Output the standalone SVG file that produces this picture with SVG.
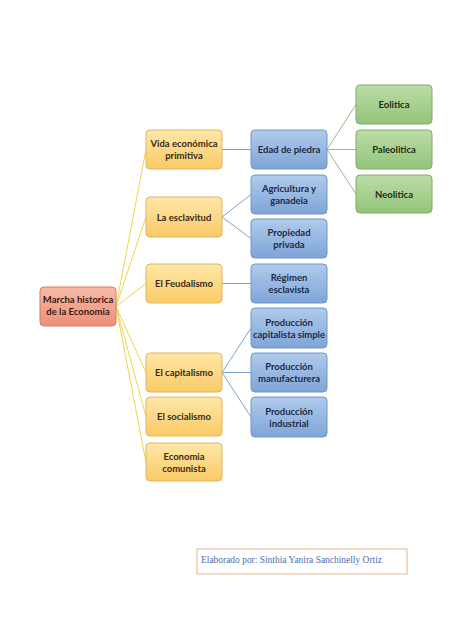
<svg xmlns="http://www.w3.org/2000/svg" width="474" height="632" viewBox="0 0 474 632">
<defs>
<linearGradient id="gy" x1="0" y1="0" x2="0" y2="1"><stop offset="0" stop-color="#fee7a8"/><stop offset="1" stop-color="#fbca66"/></linearGradient>
<linearGradient id="gb" x1="0" y1="0" x2="0" y2="1"><stop offset="0" stop-color="#b0cbec"/><stop offset="1" stop-color="#7ea5d8"/></linearGradient>
<linearGradient id="gg" x1="0" y1="0" x2="0" y2="1"><stop offset="0" stop-color="#bcdca8"/><stop offset="1" stop-color="#92c47a"/></linearGradient>
<linearGradient id="gr" x1="0" y1="0" x2="0" y2="1"><stop offset="0" stop-color="#f8baa6"/><stop offset="1" stop-color="#ee8e76"/></linearGradient>
</defs>
<style>
text{font-family:Lato,"Liberation Sans",sans-serif;font-size:9.5px;font-weight:bold;text-anchor:middle}
.y rect{fill:url(#gy);stroke:#e2b461;stroke-width:1}
.b rect{fill:url(#gb);stroke:#7096c6;stroke-width:1}
.g rect{fill:url(#gg);stroke:#80ad68;stroke-width:1}
.r rect{fill:url(#gr);stroke:#d27c67;stroke-width:1}
.y text{fill:#3b2a12}
.b text{fill:#1d2a44}
.g text{fill:#1f2e12}
.r text{fill:#3a1a12}
#connectors line{stroke-width:1;fill:none}
.cy{stroke:#f0d44a}
.cb{stroke:#7fa3cb}
.cg{stroke:#9cb983}
</style>
<rect width="474" height="632" fill="#ffffff"/>
<g id="connectors">
<line class="cy" x1="116" y1="306.5" x2="146" y2="149.5"/>
<line class="cy" x1="116" y1="306.5" x2="146" y2="217"/>
<line class="cy" x1="116" y1="306.5" x2="146" y2="283.5"/>
<line class="cy" x1="116" y1="306.5" x2="146" y2="372.5"/>
<line class="cy" x1="116" y1="306.5" x2="146" y2="416.5"/>
<line class="cy" x1="116" y1="306.5" x2="146" y2="462"/>
<line class="cb" x1="222" y1="149.5" x2="251" y2="149.5"/>
<line class="cb" x1="222" y1="217" x2="251" y2="194.5"/>
<line class="cb" x1="222" y1="217" x2="251" y2="238.5"/>
<line class="cb" x1="222" y1="283.5" x2="251" y2="283.5"/>
<line class="cb" x1="222" y1="372.5" x2="251" y2="328"/>
<line class="cb" x1="222" y1="372.5" x2="251" y2="372.5"/>
<line class="cb" x1="222" y1="372.5" x2="251" y2="417"/>
<line class="cg" x1="327" y1="149.5" x2="356" y2="104.5"/>
<line class="cg" x1="327" y1="149.5" x2="356" y2="149.5"/>
<line class="cg" x1="327" y1="149.5" x2="356" y2="194"/>
</g>
<g id="root" class="r"><rect x="40" y="287" width="76" height="39" rx="4"/><text x="78" y="303">Marcha historica</text><text x="78" y="315">de la Economia</text></g>
<g id="vida" class="y"><rect x="146" y="130" width="76" height="39" rx="4"/><text x="184" y="147">Vida económica</text><text x="184" y="159">primitiva</text></g>
<g id="esclavitud" class="y"><rect x="146" y="197" width="76" height="40" rx="4"/><text x="184" y="220.5">La esclavitud</text></g>
<g id="feudalismo" class="y"><rect x="146" y="264" width="76" height="39" rx="4"/><text x="184" y="287">El Feudalismo</text></g>
<g id="capitalismo" class="y"><rect x="146" y="353" width="76" height="39" rx="4"/><text x="184" y="376">El capitalismo</text></g>
<g id="socialismo" class="y"><rect x="146" y="397" width="76" height="39" rx="4"/><text x="184" y="420">El socialismo</text></g>
<g id="comunista" class="y"><rect x="146" y="443" width="76" height="38" rx="4"/><text x="184" y="459.5">Economia</text><text x="184" y="471.5">comunista</text></g>
<g id="piedra" class="b"><rect x="251" y="130" width="76" height="39" rx="4"/><text x="289" y="153">Edad de piedra</text></g>
<g id="agricultura" class="b"><rect x="251" y="175" width="76" height="39" rx="4"/><text x="289" y="192">Agricultura y</text><text x="289" y="204">ganadeia</text></g>
<g id="propiedad" class="b"><rect x="251" y="219" width="76" height="39" rx="4"/><text x="289" y="236">Propiedad</text><text x="289" y="248">privada</text></g>
<g id="regimen" class="b"><rect x="251" y="264" width="76" height="39" rx="4"/><text x="289" y="281">Régimen</text><text x="289" y="293">esclavista</text></g>
<g id="prod-simple" class="b"><rect x="251" y="308" width="76" height="40" rx="4"/><text x="289" y="325.5">Producción</text><text x="289" y="337.5" textLength="72" lengthAdjust="spacingAndGlyphs">capitalista simple</text></g>
<g id="prod-manuf" class="b"><rect x="251" y="353" width="76" height="39" rx="4"/><text x="289" y="370">Producción</text><text x="289" y="382">manufacturera</text></g>
<g id="prod-ind" class="b"><rect x="251" y="397" width="76" height="40" rx="4"/><text x="289" y="414.5">Producción</text><text x="289" y="426.5">industrial</text></g>
<g id="eolitica" class="g"><rect x="356" y="85" width="76" height="39" rx="4"/><text x="394" y="108">Eolitica</text></g>
<g id="paleolitica" class="g"><rect x="356" y="130" width="76" height="39" rx="4"/><text x="394" y="153">Paleolitica</text></g>
<g id="neolitica" class="g"><rect x="356" y="175" width="76" height="38" rx="4"/><text x="394" y="197.5">Neolitica</text></g>
<g id="credit">
<rect x="197" y="549" width="210" height="25" fill="#ffffff" stroke="#e4b48c" stroke-width="1"/>
<text x="201" y="563" style="font-family:'Liberation Serif',serif;font-weight:normal;font-size:9.5px;text-anchor:start;fill:#4f6caa" textLength="181" lengthAdjust="spacingAndGlyphs">Elaborado por: Sinthia Yanira Sanchinelly Ortiz</text>
</g>
</svg>
